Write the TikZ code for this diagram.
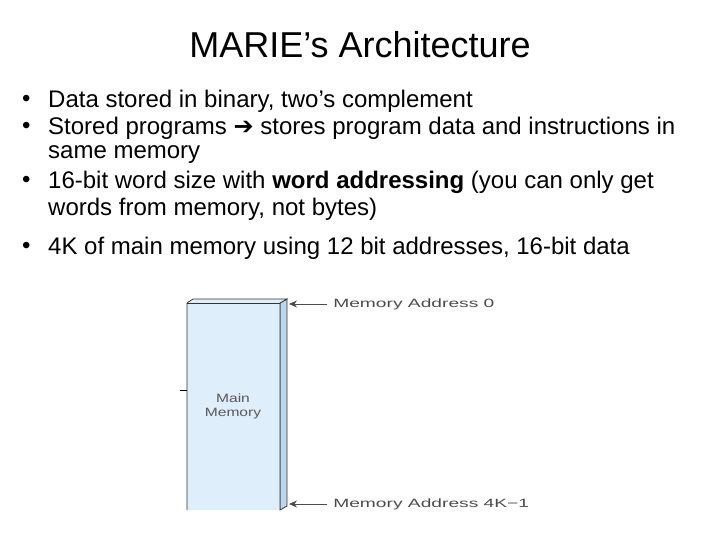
\documentclass[tikz,border=0pt]{standalone}
\usepackage{fontspec}
\setmainfont{Liberation Sans}
\definecolor{memfill}{RGB}{222,238,250}
\definecolor{memside}{RGB}{185,215,240}
\usetikzlibrary{arrows.meta}
\tikzset{bul/.style={anchor=west,inner sep=0pt,font=\fontsize{24}{28}\selectfont},
 lab/.style={anchor=west,inner sep=0pt,font=\fontsize{12}{13}\selectfont,text=black!70,xscale=1.6},
 arr/.style={-{Stealth[length=8pt,width=7pt]},black!70,line width=0.8pt}}
\begin{document}
\begin{tikzpicture}[x=1pt,y=-1pt]
\useasboundingbox (0,0) rectangle (720,540);
\node[inner sep=0pt,font=\fontsize{36}{40}\selectfont] (title) at (360,45) {MARIE’s Architecture};
\foreach \y in {101,128,182,248} {\node[bul] at (22,\y) {•};}
\node[bul] (l1) at (48,101) {Data stored in binary, two’s complement};
\node[bul] (l2) at (48,128) {Stored programs {\fontspec{DejaVu Sans}➔} stores program data and instructions in};
\node[bul] (l3) at (48,155) {same memory};
\node[bul] (l4) at (48,182) {16-bit word size with \textbf{word addressing} (you can only get};
\node[bul] (l5) at (48,209) {words from memory, not bytes)};
\node[bul] (l6) at (48,248) {4K of main memory using 12 bit addresses, 16-bit data};
% memory
\fill[memside,draw=black!80,line width=0.8pt] (280,303)--(287,299)--(287,506)--(280,510)--cycle;
\draw[fill=memfill,line width=0.8pt,draw=black!80] (187,510)--(187,303)--(193,299)--(287,299)--(280,303)--(280,510);
\draw[line width=0.8pt,draw=black!80] (187,303)--(280,303);
\node[inner sep=0pt,font=\fontsize{12}{14}\selectfont,align=center,text=black!65,xscale=1.3] (mm) at (233,406) {Main\\Memory};
\draw[line width=0.8pt] (180,390)--(187,390);
\coordinate (a0) at (289,304); \coordinate (a1) at (289,504);
\node[lab] (m0) at (333,304) {Memory Address 0};
\node[lab] (m1) at (333,504) {Memory Address 4K−1};
\draw[arr] (m0.west)++(-6,0) -- (a0);
\draw[arr] (m1.west)++(-6,0) -- (a1);
\end{tikzpicture}
\end{document}
